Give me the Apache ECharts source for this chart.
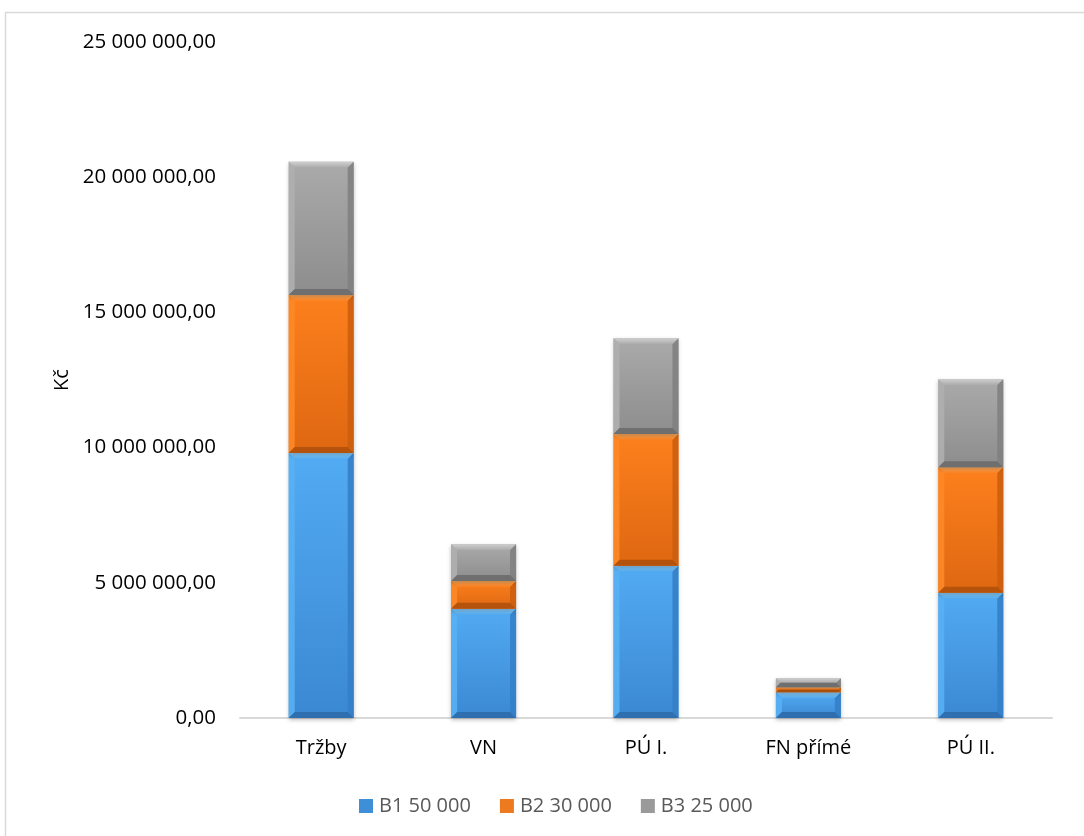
<!DOCTYPE html>
<html>
<head>
<meta charset="utf-8">
<script src="https://cdn.jsdelivr.net/npm/echarts@6/dist/echarts.min.js"></script>
<style>
  html, body { margin: 0; padding: 0; background: #fff; }
  #chart { width: 1084px; height: 836px; }
</style>
</head>
<body>
<div id="chart"></div>
<script>
// Categories and stacked series values (Kč)
const categories = ['Tržby', 'VN', 'PÚ I.', 'FN přímé', 'PÚ II.'];
const seriesNames = ['B1 50 000', 'B2 30 000', 'B3 25 000'];
const b1Values = [9800000, 4040000, 5630000, 950000, 4630000];
const b2Values = [5840000, 1030000, 4870000, 185000, 4640000];
const b3Values = [4930000, 1360000, 3540000, 335000, 3260000];
const yTicks = { min: 0, max: 25000000, interval: 5000000 };

const stackValues = [b1Values, b2Values, b3Values];
const FONT = '"Open Sans", "Noto Sans", sans-serif';

// Bevelled segment palettes: main gradient, top, left, right, bottom facets
const palettes = [
  { legend: '#3f8fd8', top: '#52abf3', bot: '#3b88d2', tb: '#8fd2ff', lb: '#58b0f4', rb: '#3480c8', bb: '#2f6fb0' },
  { legend: '#ee7a20', top: '#fd801d', bot: '#de6711', tb: '#ffac5e', lb: '#fe8826', rb: '#cc5e0f', bb: '#b5530c' },
  { legend: '#9a9a9a', top: '#aaaaaa', bot: '#8d8d8d', tb: '#cfcfcf', lb: '#afafaf', rb: '#818181', bb: '#6f6f6f' }
];

function fmtNumber(v) {
  const parts = Math.round(v).toString().replace(/\B(?=(\d{3})+(?!\d))/g, ' ');
  return parts + ',00';
}

function makeRenderer(sIdx) {
  const pal = palettes[sIdx];
  return function (params, api) {
    const i = api.value(0);
    let base = 0;
    for (let k = 0; k < sIdx; k++) base += stackValues[k][i];
    const val = api.value(1);
    const pBot = api.coord([i, base]);
    const pTop = api.coord([i, base + val]);
    const bw = api.size([1, 0])[0] * 0.4;
    const x = pBot[0] - bw / 2;
    const y = pTop[1];
    const w = bw;
    const h = pBot[1] - pTop[1];
    const b = Math.min(6, h / 2);
    const children = [
      {
        type: 'rect',
        shape: { x: x, y: y, width: w, height: h },
        style: {
          fill: new echarts.graphic.LinearGradient(0, 0, 0, 1, [
            { offset: 0, color: pal.top },
            { offset: 1, color: pal.bot }
          ]),
          shadowBlur: 4,
          shadowColor: 'rgba(0,0,0,0.25)',
          shadowOffsetY: 2
        }
      },
      {
        type: 'polygon',
        shape: { points: [[x, y], [x + w, y], [x + w - b, y + b], [x + b, y + b]] },
        style: {
          fill: new echarts.graphic.LinearGradient(0, 0, 0, 1, [
            { offset: 0, color: pal.tb },
            { offset: 1, color: pal.top }
          ])
        }
      },
      { type: 'polygon', shape: { points: [[x, y], [x + b, y + b], [x + b, y + h - b], [x, y + h]] }, style: { fill: pal.lb, opacity: 0.9 } },
      { type: 'polygon', shape: { points: [[x + w, y], [x + w, y + h], [x + w - b, y + h - b], [x + w - b, y + b]] }, style: { fill: pal.rb, opacity: 0.9 } },
      { type: 'polygon', shape: { points: [[x, y + h], [x + w, y + h], [x + w - b, y + h - b], [x + b, y + h - b]] }, style: { fill: pal.bb } }
    ];
    return { type: 'group', children: children };
  };
}

const series = stackValues.map(function (vals, sIdx) {
  return {
    type: 'custom',
    name: seriesNames[sIdx],
    renderItem: makeRenderer(sIdx),
    itemStyle: { color: palettes[sIdx].legend },
    encode: { x: 0, y: 1 },
    data: vals.map(function (v, i) { return [i, v]; }),
    z: 2
  };
});

const chart = echarts.init(document.getElementById('chart'), null, { renderer: 'canvas' });
chart.setOption({
  animation: false,
  backgroundColor: '#ffffff',
  textStyle: { fontFamily: FONT },
  graphic: [{
    type: 'rect',
    left: 3, top: 10,
    shape: { width: 1200, height: 900 },
    style: { fill: 'none', stroke: '#d9d9d9', lineWidth: 1.5 },
    silent: true,
    z: -1
  }],
  grid: { left: 240, right: 32, top: 42, bottom: 118, containLabel: false },
  legend: {
    data: seriesNames,
    left: 354,
    top: 791,
    icon: 'rect',
    itemWidth: 14,
    itemHeight: 14,
    itemGap: 29,
    textStyle: { color: '#595959', fontSize: 20, fontFamily: FONT, padding: [0, 0, 0, 1] }
  },
  xAxis: {
    type: 'category',
    data: categories,
    axisLine: { show: true, lineStyle: { color: '#d9d9d9', width: 2 } },
    axisTick: { show: false },
    axisLabel: { color: '#000', fontSize: 20, margin: 20, fontFamily: FONT }
  },
  yAxis: {
    type: 'value',
    min: yTicks.min,
    max: yTicks.max,
    interval: yTicks.interval,
    name: 'Kč',
    nameLocation: 'middle',
    nameGap: 166,
    nameRotate: 90,
    nameTextStyle: { color: '#000', fontSize: 20, fontFamily: FONT },
    axisLine: { show: false },
    axisTick: { show: false },
    splitLine: { show: false },
    axisLabel: { color: '#000', fontSize: 20.5, margin: 24, formatter: fmtNumber, fontFamily: FONT }
  },
  series: series
});
</script>
</body>
</html>
